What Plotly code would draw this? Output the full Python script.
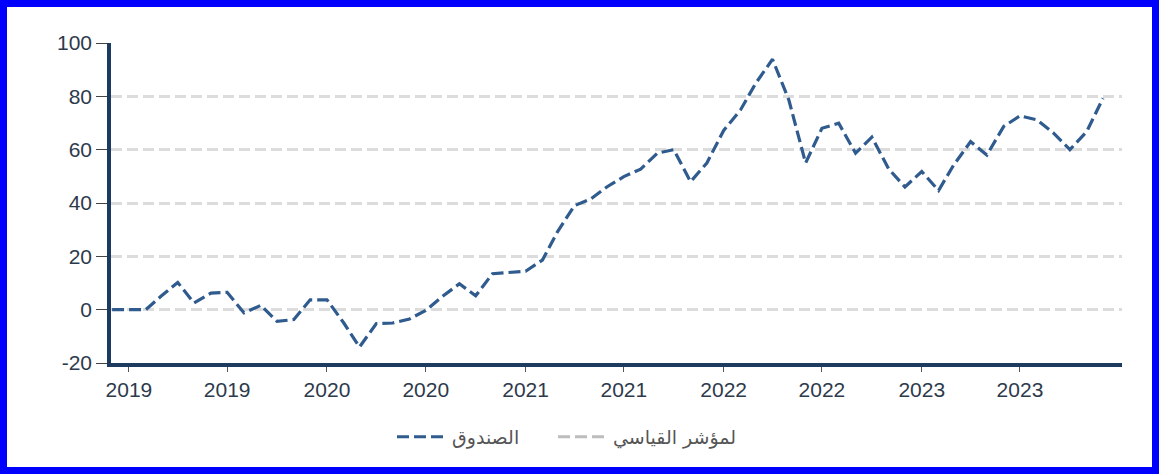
import pandas as pd
import plotly.graph_objects as go

# ---- data (monthly, Dec 2018 .. Dec 2023) ----
months = pd.date_range("2018-12-01", "2023-12-01", freq="MS")
fund_values = [
    0, 0, 0, 5, 10.2, 2.5, 6.2, 6.5, -1.2, 1.6,
    -4.4, -3.7, 3.7, 3.7, -5, -14, -5.2, -5, -3.5, -0.3,
    5, 9.7, 5.2, 13.5, 13.9, 14.4, 18.6, 29.3, 39, 41.5,
    46.2, 49.9, 52.7, 58.7, 60, 48, 55, 67.2, 74.9, 84.9,
    93.9, 78.7, 55, 68, 69.9, 58.7, 64.7, 52.8, 46, 51.8,
    44.7, 54.3, 63, 58, 68.7, 72.7, 71.2, 66.2, 60, 66.8,
    79.3,
]
fund_name = "الصندوق"
bench_name = "لمؤشر القياسي"
tick_dates = ["2019-01-01", "2019-07-01", "2020-01-01", "2020-07-01", "2021-01-01",
              "2021-07-01", "2022-01-01", "2022-07-01", "2023-01-01", "2023-07-01"]
tick_labels = ["2019", "2019", "2020", "2020", "2021", "2021", "2022", "2022", "2023", "2023"]
y_ticks = [-20, 0, 20, 40, 60, 80, 100]
y_tick_labels = ["-20", "0", "20", "40", "60", "80", "100"]

W, H = 1159, 474
L, R, T, B = 111, 37, 43, 111
pw, ph = W - L - R, H - T - B

fig = go.Figure()
fig.add_trace(go.Scatter(
    x=months, y=fund_values, mode="lines", name=fund_name, legend="legend",
    line=dict(color="#2f5b8e", width=3.2, dash="12px,5px"),
))
fig.add_trace(go.Scatter(
    x=[None], y=[None], mode="lines", name=bench_name, legend="legend2",
    line=dict(color="#bdbdbd", width=3.2, dash="12px,5px"),
))

# blue frame around the whole picture
bw = 7
fig.add_shape(
    type="rect", xref="paper", yref="paper", layer="above",
    x0=(bw / 2 - L) / pw, x1=(W - bw / 2 - L) / pw,
    y0=-(H - bw / 2 - T - ph) / ph, y1=(T + ph - bw / 2) / ph,
    line=dict(color="#0000ff", width=bw),
)

legend_common = dict(
    orientation="h", xanchor="left", y=-0.231, yanchor="middle",
    font=dict(family="DejaVu Sans, sans-serif", size=19, color="#555555"),
    itemwidth=50, bgcolor="rgba(0,0,0,0)",
)

fig.update_layout(
    width=W, height=H,
    margin=dict(l=L, r=R, t=T, b=B),
    paper_bgcolor="white", plot_bgcolor="white",
    font=dict(family="Liberation Sans, Arial, sans-serif", color="#2d3a4b"),
    showlegend=True,
    legend=dict(x=(400 - 8 - L) / pw, **legend_common),
    legend2=dict(x=(561 - 8 - L) / pw, **legend_common),
    xaxis=dict(
        type="date",
        range=["2018-11-29", "2024-01-05"],
        tickvals=tick_dates, ticktext=tick_labels,
        showgrid=False, zeroline=False,
        showline=True, linecolor="#1d3b5e", linewidth=3.5,
        ticks="outside", ticklen=5, tickcolor="#555555", tickwidth=1,
        tickfont=dict(size=21, color="#2d3a4b"),
    ),
    yaxis=dict(
        range=[-20, 100], tickvals=y_ticks, ticktext=y_tick_labels,
        showgrid=True, gridcolor="#dcdcdc", gridwidth=2.5, griddash="11px,5px",
        zeroline=False,
        showline=True, linecolor="#1d3b5e", linewidth=3.5,
        ticks="outside", ticklen=11, tickcolor="#444444", tickwidth=1,
        tickfont=dict(size=21, color="#2d3a4b"),
    ),
)

fig.write_html(
    "out.html",
    config={"displayModeBar": False},
    post_script="document.body.style.margin='0';document.body.style.overflow='hidden';",
)
